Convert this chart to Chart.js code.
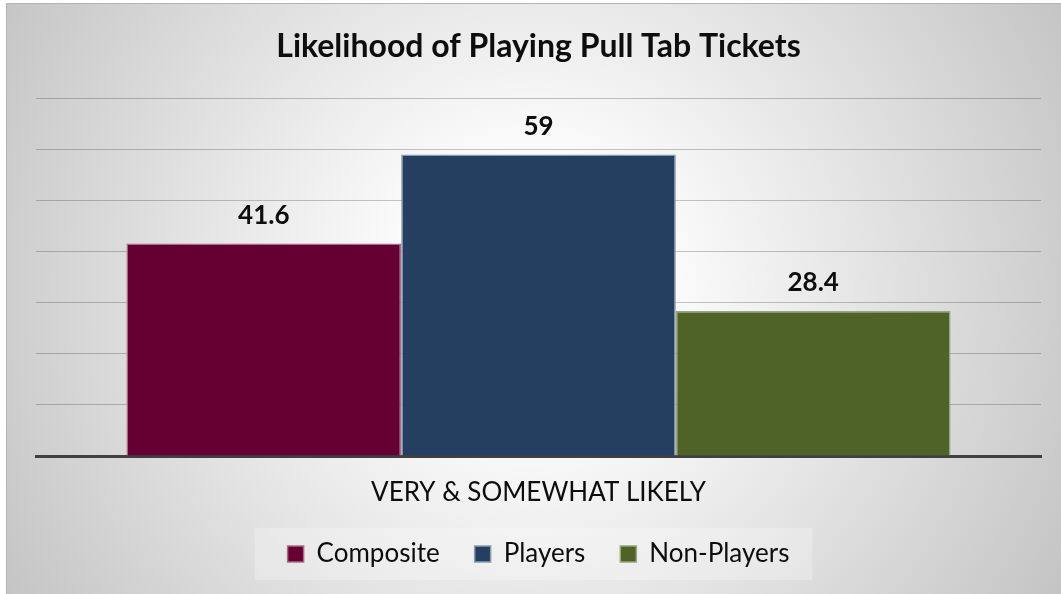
<!DOCTYPE html>
<html>
<head>
<meta charset="utf-8">
<title>Likelihood of Playing Pull Tab Tickets</title>
<script src="https://cdn.jsdelivr.net/npm/chart.js@4/dist/chart.umd.min.js"></script>
<style>
  html, body { margin: 0; padding: 0; background: #fff; }
  #wrap { width: 1061px; height: 594px; }
</style>
</head>
<body>
<div id="wrap"><canvas id="likelihood" width="1061" height="594"></canvas></div>
<script>
var categories = ['VERY & SOMEWHAT LIKELY'];
var seriesNames = ['Composite', 'Players', 'Non-Players'];
var composite = [41.6];
var players = [59];
var nonPlayers = [28.4];
var yTicks = [0, 10, 20, 30, 40, 50, 60, 70];

var fills = ['#660033', '#243F60', '#4F6228'];
var edges = ['#a66c89', '#8c9bb0', '#98a57e'];
var fontName = 'Lato, "Open Sans", sans-serif';

// grey radial backdrop, white in the middle
var backdrop = {
  id: 'backdrop',
  beforeDraw: function(chart) {
    var ctx = chart.ctx;
    var w = chart.width, h = chart.height;
    ctx.save();
    ctx.fillStyle = '#ffffff';
    ctx.fillRect(0, 0, w, h);
    var g = ctx.createRadialGradient(530, 290, 0, 530, 290, 620);
    g.addColorStop(0, '#ffffff');
    g.addColorStop(0.2, '#fdfdfd');
    g.addColorStop(1, '#c3c3c3');
    ctx.fillStyle = g;
    ctx.fillRect(6, 3, w - 6, h - 3);
    ctx.strokeStyle = '#b4b4b4';
    ctx.lineWidth = 1;
    ctx.beginPath();
    ctx.moveTo(6.5, h);
    ctx.lineTo(6.5, 3.5);
    ctx.lineTo(w, 3.5);
    ctx.stroke();

    // soft panel behind the legend
    var boxes = chart.legend && chart.legend.legendHitBoxes;
    if (boxes && boxes.length) {
      var first = boxes[0], last = boxes[boxes.length - 1];
      var left = first.left - 33;
      var right = last.left + last.width + 23;
      var mid = first.top + first.height / 2;
      ctx.fillStyle = 'rgba(255,255,255,0.25)';
      ctx.fillRect(left, mid - 26, right - left, 52);
    }
    ctx.restore();
  }
};

// value printed above each bar
var barValues = {
  id: 'barValues',
  afterDatasetsDraw: function(chart) {
    var ctx = chart.ctx;
    ctx.save();
    ctx.font = 'bold 26px ' + fontName;
    ctx.fillStyle = '#0d0d0d';
    ctx.textAlign = 'center';
    ctx.textBaseline = 'middle';
    chart.data.datasets.forEach(function(ds, i) {
      var meta = chart.getDatasetMeta(i);
      meta.data.forEach(function(bar, j) {
        ctx.fillText(String(ds.data[j]), bar.x, bar.y - 28);
      });
    });
    ctx.restore();
  }
};

var seriesData = [composite, players, nonPlayers];
var datasets = seriesNames.map(function(name, i) {
  return {
    label: name,
    data: seriesData[i],
    backgroundColor: fills[i],
    borderColor: edges[i],
    borderWidth: 1.5,
    categoryPercentage: 0.82,
    barPercentage: 1
  };
});

new Chart(document.getElementById('likelihood'), {
  type: 'bar',
  data: { labels: categories, datasets: datasets },
  plugins: [backdrop, barValues],
  options: {
    responsive: false,
    animation: false,
    layout: { padding: { left: 36, right: 20, top: 0, bottom: 17 } },
    scales: {
      x: {
        z: 1,
        grid: { display: false, drawTicks: false },
        border: { display: true, color: '#404040', width: 3 },
        ticks: {
          color: '#0d0d0d',
          padding: 21,
          font: { family: fontName, size: 26 }
        },
        afterFit: function(scale) { scale.height = 50; }
      },
      y: {
        min: yTicks[0],
        max: yTicks[yTicks.length - 1],
        afterBuildTicks: function(scale) {
          scale.ticks = yTicks.map(function(v) { return { value: v }; });
        },
        grid: { color: 'rgba(0,0,0,0.22)', lineWidth: 1, drawTicks: false },
        border: { display: false },
        ticks: { display: false },
        afterFit: function(scale) { scale.width = 0; }
      }
    },
    plugins: {
      title: {
        display: true,
        text: 'Likelihood of Playing Pull Tab Tickets',
        color: '#0d0d0d',
        font: { family: fontName, size: 32, weight: 'bold' },
        padding: { top: 27, bottom: 33 }
      },
      legend: {
        position: 'bottom',
        labels: {
          color: '#0d0d0d',
          font: { family: fontName, size: 26 },
          boxWidth: 16,
          boxHeight: 16,
          padding: 35
        }
      },
      tooltip: { enabled: false }
    }
  }
});
</script>
</body>
</html>
